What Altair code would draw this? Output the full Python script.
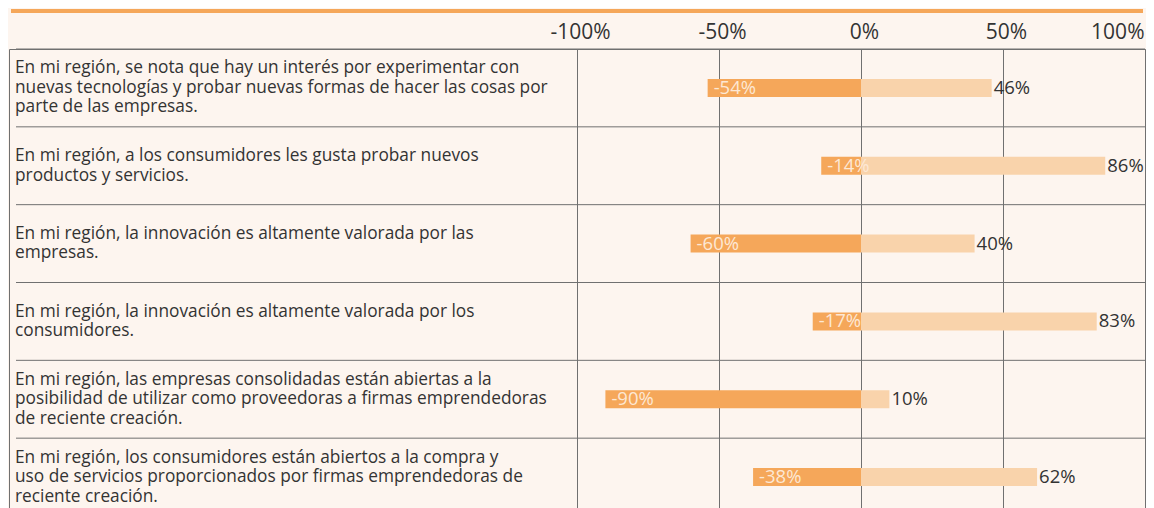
import altair as alt
import pandas as pd

statements = [
    "En mi región, se nota que hay un interés por experimentar con\nnuevas tecnologías y probar nuevas formas de hacer las cosas por\nparte de las empresas.",
    "En mi región, a los consumidores les gusta probar nuevos\nproductos y servicios.",
    "En mi región, la innovación es altamente valorada por las\nempresas.",
    "En mi región, la innovación es altamente valorada por los\nconsumidores.",
    "En mi región, las empresas consolidadas están abiertas a la\nposibilidad de utilizar como proveedoras a firmas emprendedoras\nde reciente creación.",
    "En mi región, los consumidores están abiertos a la compra y\nuso de servicios proporcionados por firmas emprendedoras de\nreciente creación.",
]
negative = [-54, -14, -60, -17, -90, -38]
positive = [46, 86, 40, 83, 10, 62]
ticks = [-100, -50, 0, 50, 100]

df = pd.DataFrame({
    "row": list(range(len(statements))),
    "text": statements,
    "neg": negative,
    "pos": positive,
})
df["neg_label"] = [f"{v}%" for v in negative]
df["pos_label"] = [f"{v}%" for v in positive]
one = pd.DataFrame({"k": [0]})

BG = "#FDF5EF"
DARK = "#F5A75A"
LIGHT = "#F9D3AB"
GRID = "#707070"
TXT = "#333333"
FONT = "Open Sans"
LH = 19.5

H = 467
LW = 568
RW = 568
HALF_BAND = H / len(statements) / 2

yscale = alt.Scale(paddingInner=0, paddingOuter=0)
yenc = alt.Y("row:O", axis=None, scale=yscale)
yedge = alt.Y("row:O", axis=None, scale=yscale, bandPosition=0)

# ---- left panel: statements
left_text = alt.Chart(df).transform_calculate(
    off=f"{HALF_BAND} - (length(split(datum.text, '\\n')) - 1) * {LH / 2}"
).mark_text(
    align="left", baseline="middle", font=FONT, fontSize=17.3,
    lineHeight=LH, color=TXT, lineBreak="\n"
).encode(
    y=yenc, yOffset=alt.YOffset("off:Q", scale=None),
    x=alt.value(6), text="text:N"
)

left_rules = alt.Chart(df).mark_rule(color=GRID, strokeWidth=1).encode(
    y=yedge, x=alt.value(7), x2=alt.value(LW)
)
left_top = alt.Chart(one).mark_rule(color=DARK, strokeWidth=4).encode(
    y=alt.value(-38), x=alt.value(2), x2=alt.value(LW)
)
left = alt.layer(left_rules, left_text, left_top).properties(width=LW, height=H)

# ---- right panel: bars
xscale = alt.Scale(domain=[-100, 100], nice=False, zero=False)
xaxis = alt.Axis(
    orient="top", values=ticks, labelExpr="datum.value + '%'",
    grid=True, gridColor=GRID, gridOpacity=1, ticks=False, domain=False, title=None,
    labelFont=FONT, labelFontSize=21, labelColor=TXT, labelPadding=7,
    labelAlign={"condition": {"test": "datum.value == 100", "value": "right"}, "value": "center"},
    labelOffset={"condition": {"test": "datum.value == 100", "value": -1}, "value": 3},
)

right_rules = alt.Chart(df).mark_rule(color=GRID, strokeWidth=1).encode(
    y=yedge, x=alt.value(0), x2=alt.value(RW)
)
dark = alt.Chart(df).mark_bar(color=DARK, size=18).encode(
    y=yenc, x=alt.X("neg:Q", scale=xscale, axis=xaxis), x2=alt.datum(0)
)
light = alt.Chart(df).mark_bar(color=LIGHT, size=18).encode(
    y=yenc, x=alt.X("pos:Q", scale=xscale), x2=alt.datum(0)
)
neg_text = alt.Chart(df).mark_text(
    align="left", baseline="middle", dx=6, font=FONT, fontSize=18.5, color="#FDE8D4"
).encode(y=yenc, x=alt.X("neg:Q", scale=xscale), text="neg_label:N")
pos_text = alt.Chart(df).mark_text(
    align="left", baseline="middle", dx=2, font=FONT, fontSize=18.5, color=TXT
).encode(y=yenc, x=alt.X("pos:Q", scale=xscale), text="pos_label:N")
right_top = alt.Chart(one).mark_rule(color=DARK, strokeWidth=4).encode(
    y=alt.value(-38), x=alt.value(0), x2=alt.value(RW - 2)
)
right = alt.layer(right_rules, dark, light, neg_text, pos_text, right_top).properties(
    width=RW, height=H
)

chart = alt.hconcat(left, right, spacing=0, bounds="flush").properties(
    background=BG, padding={"left": 0, "top": 0, "right": 0, "bottom": 0}
).configure_view(stroke=GRID, strokeWidth=1).configure_concat(spacing=0)

chart.save("out.html", embed_options={"renderer": "svg", "actions": False})
